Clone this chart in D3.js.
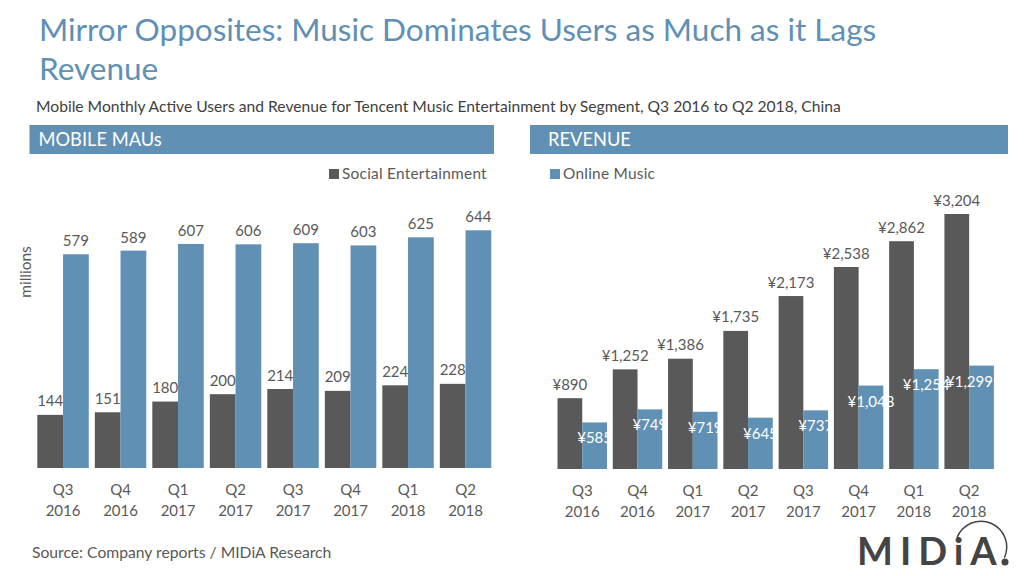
<!DOCTYPE html>
<html><head><meta charset="utf-8">
<script src="https://cdn.jsdelivr.net/npm/d3@7/dist/d3.min.js"></script>
<style>html,body{margin:0;padding:0;background:#fff}svg{display:block}text{font-family:Lato,"Open Sans",sans-serif}</style>
</head><body><svg id="c" width="1024" height="576"></svg>
<script>
const quarters = ["Q3","Q4","Q1","Q2","Q3","Q4","Q1","Q2"];
const years = ["2016","2016","2017","2017","2017","2017","2018","2018"];
const mauSocial = [144,151,180,200,214,209,224,228];
const mauMusic = [579,589,607,606,609,603,625,644];
const revSocial = [890,1252,1386,1735,2173,2538,2862,3204];
const revMusic = [585,749,719,645,737,1048,1254,1299];
const titleLines = ["Mirror Opposites: Music Dominates Users as Much as it Lags","Revenue"];
const subtitle = "Mobile Monthly Active Users and Revenue for Tencent Music Entertainment by Segment, Q3 2016 to Q2 2018, China";
const source = "Source: Company reports / MIDiA Research";

const BLUE="#6090b3", DARK="#595959", TXT="#595959";
const svg=d3.select("#c");
titleLines.forEach((t,i)=>svg.append("text").attr("x",39).attr("y",41+i*39).attr("font-size",31.5).attr("font-weight",400).attr("fill",BLUE).text(t));
svg.append("text").attr("x",36).attr("y",112).attr("font-size",15.65).attr("fill","#404040").text(subtitle);
svg.append("text").attr("x",32).attr("y",558).attr("font-size",15.7).attr("fill",TXT).text(source);

function panel(o){
  const idx=d3.range(8);
  const x=d3.scaleBand().domain(idx).range(o.xr).paddingInner(.105).paddingOuter(.0525);
  const sub=d3.scaleBand().domain(["a","b"]).range([0,x.bandwidth()]);
  const y=d3.scaleLinear().domain(o.dom).range(o.yr);
  svg.append("rect").attr("x",o.hx).attr("y",125).attr("width",o.hw).attr("height",29).attr("fill",BLUE);
  svg.append("text").attr("x",o.hx+o.hpad).attr("y",146).attr("font-size",18.3).attr("fill","#fff").text(o.head);
  const g=svg.append("g");
  g.selectAll("rect.a").data(o.a).join("rect").attr("class","a").attr("x",(d,i)=>x(i)).attr("y",d=>y(d)).attr("width",sub.bandwidth()).attr("height",d=>y(0)-y(d)).attr("fill",DARK);
  g.selectAll("rect.b").data(o.b).join("rect").attr("class","b").attr("x",(d,i)=>x(i)+sub("b")).attr("y",d=>y(d)).attr("width",sub.bandwidth()).attr("height",d=>y(0)-y(d)).attr("fill",BLUE);
  g.selectAll("text.a").data(o.a).join("text").attr("class","a").attr("text-anchor","middle").attr("font-size",15).attr("fill",TXT)
    .attr("x",(d,i)=>x(i)+sub("a")+sub.bandwidth()/2).attr("y",d=>y(d)-8.5).text(o.fmt);
  g.selectAll("text.b").data(o.b).join("text").attr("class","b").attr("text-anchor","middle").attr("font-size",15)
    .attr("fill",o.inside?"#fff":TXT)
    .attr("x",(d,i)=>x(i)+sub("b")+sub.bandwidth()/2-(o.inside&&i===7?12:0))
    .attr("y",d=>o.inside?y(d)+21:y(d)-8).text(o.fmt);
  const ax=g.append("g").attr("transform",`translate(0,${o.yr[0]})`).call(d3.axisBottom(x).tickSize(0).tickPadding(0).tickFormat(()=>""));
  ax.select(".domain").remove();
  ax.selectAll(".tick text").remove();
  ax.selectAll(".tick").append("text").attr("text-anchor","middle").attr("font-size",15).attr("fill",TXT)
    .attr("y",27).text(i=>quarters[i]);
  ax.selectAll(".tick").append("text").attr("text-anchor","middle").attr("font-size",15).attr("fill",TXT)
    .attr("y",48).text(i=>years[i]);
  svg.append("rect").attr("x",o.lx).attr("y",169).attr("width",10).attr("height",10).attr("fill",o.lc);
  svg.append("text").attr("x",o.lx+13).attr("y",178.5).attr("font-size",15.4).attr("letter-spacing",".25px").attr("fill",TXT).text(o.lt);
}
panel({xr:[34.3,494.3],yr:[468,230.3],dom:[0,644],hx:29.5,hw:464.5,hpad:9,head:"MOBILE MAUs",a:mauSocial,b:mauMusic,fmt:d=>d3.format("d")(d),inside:false,lx:329,lc:DARK,lt:"Social Entertainment"});
panel({xr:[554.6,996.8],yr:[469,214],dom:[0,3204],hx:530,hw:478,hpad:18,head:"REVENUE",a:revSocial,b:revMusic,fmt:d=>"¥"+d3.format(",")(d),inside:true,lx:550,lc:BLUE,lt:"Online Music"});
svg.append("text").attr("transform","translate(31,272) rotate(-90)").attr("text-anchor","middle").attr("font-size",15.5).attr("fill",TXT).text("millions");

const logo=svg.append("g");
logo.append("text").attr("x",857).attr("y",565).attr("font-size",38).attr("font-weight",700).attr("letter-spacing","7px").attr("fill","#444").text("MIDiA");
logo.append("path").attr("d",d3.arc()({innerRadius:25,outerRadius:26.5,startAngle:-1.2,endAngle:2.0})).attr("transform","translate(981,547)").attr("fill","#444");
logo.append("circle").attr("cx",1005).attr("cy",562).attr("r",3.5).attr("fill","#444");
</script></body></html>
